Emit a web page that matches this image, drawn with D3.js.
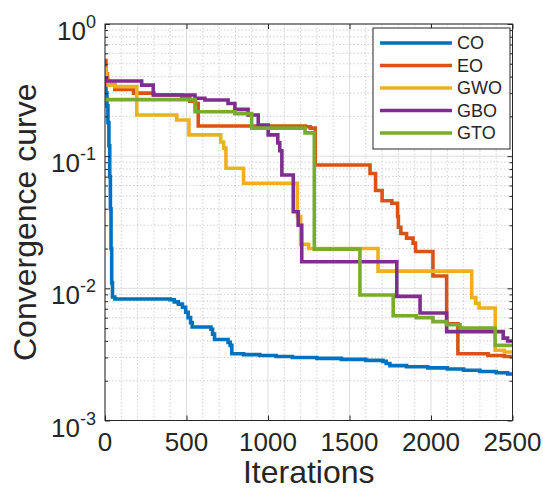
<!DOCTYPE html>
<html>
<head>
<meta charset="utf-8">
<script src="https://cdn.jsdelivr.net/npm/d3@7"></script>
<style>
  body { margin: 0; background: #fff; }
  svg { display: block; }
  text { font-family: "Liberation Sans", Arial, sans-serif; fill: #262626; }
</style>
</head>
<body>
<svg id="chart" width="543" height="495"></svg>
<script>
// Convergence histories: [iteration, best fitness] breakpoints of each staircase
const seriesNames = ["CO", "EO", "GWO", "GBO", "GTO"];
const seriesColors = ["#0072BD", "#D95319", "#EDB120", "#7E2F8E", "#77AC30"];

const CO = [[0,0.35],[6,0.3],[12,0.24],[18,0.18],[24,0.12],[29,0.07],[33,0.04],[37,0.02],[41,0.011],[46,0.0086],[60,0.0083],
  [400,0.0082],[425,0.0079],[450,0.0076],[475,0.0072],[495,0.0066],[510,0.006],[525,0.0055],[535,0.0051],[650,0.0049],
  [660,0.0045],[672,0.0041],[755,0.0039],[768,0.0037],[778,0.0032],[850,0.00315],[950,0.0031],[1050,0.00305],[1150,0.003],
  [1300,0.00295],[1450,0.0029],[1600,0.00285],[1705,0.0028],[1725,0.0027],[1748,0.0026],[1850,0.00255],[1980,0.0025],
  [2100,0.00245],[2200,0.0024],[2300,0.00235],[2400,0.0023],[2470,0.00225],[2500,0.00225]];

const EO = [[0,0.53],[6,0.42],[15,0.35],[60,0.32],[175,0.3],[300,0.29],[470,0.28],[520,0.26],[555,0.25],[572,0.169],
  [1230,0.167],[1260,0.163],[1290,0.0858],[1626,0.074],[1660,0.055],[1700,0.046],[1760,0.044],[1795,0.035],[1800,0.029],
  [1815,0.026],[1850,0.024],[1890,0.022],[1905,0.019],[2012,0.0124],[2096,0.0054],[2165,0.0032],[2350,0.0031],
  [2450,0.00305],[2500,0.00305]];

const GWO = [[0,0.46],[5,0.42],[10,0.38],[20,0.345],[60,0.336],[195,0.205],[440,0.188],[515,0.145],[710,0.128],
  [728,0.115],[742,0.081],[850,0.0624],[1180,0.035],[1200,0.0215],[1250,0.02],[1675,0.0135],[2250,0.0085],
  [2275,0.0077],[2295,0.0071],[2394,0.0034],[2450,0.0033],[2500,0.0033]];

const GBO = [[0,0.39],[10,0.37],[225,0.345],[296,0.29],[552,0.274],[613,0.266],[755,0.25],[797,0.226],[878,0.205],
  [940,0.172],[1001,0.145],[1060,0.126],[1072,0.11],[1085,0.072],[1155,0.038],[1185,0.03],[1207,0.0159],
  [1790,0.0087],[1933,0.0065],[2096,0.0047],[2443,0.0042],[2470,0.004],[2500,0.004]];

const GTO = [[0,0.268],[552,0.217],[797,0.21],[900,0.163],[1227,0.15],[1284,0.0198],[1564,0.0089],[1768,0.0062],
  [1910,0.006],[2012,0.0056],[2096,0.0053],[2178,0.005],[2394,0.0037],[2500,0.0037]];

const seriesData = [CO, EO, GWO, GBO, GTO];
const xTicks = [0, 500, 1000, 1500, 2000, 2500];
const yExponents = [0, -1, -2, -3];
const xMinorStep = 100;

const plot = { left: 105, right: 512.5, top: 24, bottom: 420.5 };
const axisColor = "#262626";

const svg = d3.select("#chart");
const x = d3.scaleLinear().domain([0, 2500]).range([plot.left, plot.right]);
const y = d3.scaleLog().domain([1e-3, 1]).range([plot.bottom, plot.top]);

// minor positions
const xMinor = d3.range(xMinorStep, 2500, xMinorStep).filter(v => v % 500 !== 0);
const yMinor = [];
[-3, -2, -1].forEach(e => { for (let k = 2; k <= 9; k++) yMinor.push(k * Math.pow(10, e)); });
const yMajor = yExponents.map(e => Math.pow(10, e));

// grid
const grid = svg.append("g");
grid.selectAll(".gxm").data(xMinor).join("line")
  .attr("x1", d => x(d)).attr("x2", d => x(d)).attr("y1", plot.top).attr("y2", plot.bottom)
  .attr("stroke", "#c4c4c4").attr("stroke-width", 0.8).attr("stroke-dasharray", "1.5,2");
grid.selectAll(".gym").data(yMinor).join("line")
  .attr("y1", d => y(d)).attr("y2", d => y(d)).attr("x1", plot.left).attr("x2", plot.right)
  .attr("stroke", "#c4c4c4").attr("stroke-width", 0.8).attr("stroke-dasharray", "1.5,2");
grid.selectAll(".gxM").data(xTicks).join("line")
  .attr("x1", d => x(d)).attr("x2", d => x(d)).attr("y1", plot.top).attr("y2", plot.bottom)
  .attr("stroke", "#dcdcdc").attr("stroke-width", 1);
grid.selectAll(".gyM").data(yMajor).join("line")
  .attr("y1", d => y(d)).attr("y2", d => y(d)).attr("x1", plot.left).attr("x2", plot.right)
  .attr("stroke", "#dcdcdc").attr("stroke-width", 1);

// curves
svg.append("clipPath").attr("id", "plotClip").append("rect")
  .attr("x", plot.left).attr("y", plot.top)
  .attr("width", plot.right - plot.left).attr("height", plot.bottom - plot.top);

const line = d3.line().x(d => x(d[0])).y(d => y(d[1])).curve(d3.curveStepAfter);
svg.append("g").attr("clip-path", "url(#plotClip)")
  .selectAll("path").data(seriesData).join("path")
  .attr("d", line)
  .attr("fill", "none")
  .attr("stroke", (d, i) => seriesColors[i])
  .attr("stroke-width", 3.6)
  .attr("stroke-linejoin", "miter");

// axes (ticks pointing inward, box on all sides)
function styleAxis(g) {
  g.select(".domain").remove();
  g.selectAll("line").attr("stroke", axisColor).attr("stroke-width", 1);
  g.selectAll("text").remove();
}
svg.append("g").attr("transform", `translate(0,${plot.bottom})`)
  .call(d3.axisBottom(x).tickValues(xTicks).tickSize(-5)).call(styleAxis);
svg.append("g").attr("transform", `translate(0,${plot.top})`)
  .call(d3.axisTop(x).tickValues(xTicks).tickSize(-5)).call(styleAxis);
svg.append("g").attr("transform", `translate(${plot.left},0)`)
  .call(d3.axisLeft(y).tickValues(yMajor).tickSize(-5)).call(styleAxis);
svg.append("g").attr("transform", `translate(${plot.left},0)`)
  .call(d3.axisLeft(y).tickValues(yMinor).tickSize(-3)).call(styleAxis);
svg.append("g").attr("transform", `translate(${plot.right},0)`)
  .call(d3.axisRight(y).tickValues(yMajor).tickSize(-5)).call(styleAxis);
svg.append("g").attr("transform", `translate(${plot.right},0)`)
  .call(d3.axisRight(y).tickValues(yMinor).tickSize(-3)).call(styleAxis);

svg.append("rect")
  .attr("x", plot.left).attr("y", plot.top)
  .attr("width", plot.right - plot.left).attr("height", plot.bottom - plot.top)
  .attr("fill", "none").attr("stroke", axisColor).attr("stroke-width", 1);

// tick labels
svg.append("g").selectAll("text").data(xTicks).join("text")
  .attr("x", d => x(d)).attr("y", 451)
  .attr("text-anchor", "middle").attr("font-size", 26)
  .text(d => d);

const yl = svg.append("g").selectAll("text").data(yExponents).join("text")
  .attr("x", 96).attr("y", d => y(Math.pow(10, d)) + 16)
  .attr("text-anchor", "end").attr("font-size", 26);
yl.append("tspan").text("10");
yl.append("tspan").attr("font-size", 18).attr("dy", -12).text(d => d === 0 ? "0" : "-" + Math.abs(d));

// axis titles
svg.append("text").attr("x", (plot.left + plot.right) / 2).attr("y", 483)
  .attr("text-anchor", "middle").attr("font-size", 32).text("Iterations");
svg.append("text")
  .attr("transform", `translate(36,${(plot.top + plot.bottom) / 2}) rotate(-90)`)
  .attr("text-anchor", "middle").attr("font-size", 32).text("Convergence curve");

// legend
const leg = { x: 373, y: 28, w: 137, h: 121, rowTop: 43, rowStep: 22.5 };
const lg = svg.append("g");
lg.append("rect").attr("x", leg.x).attr("y", leg.y).attr("width", leg.w).attr("height", leg.h)
  .attr("fill", "#fff").attr("stroke", axisColor).attr("stroke-width", 1);
const rows = lg.selectAll("g.row").data(seriesNames).join("g")
  .attr("transform", (d, i) => `translate(0,${leg.rowTop + i * leg.rowStep})`);
rows.append("line").attr("x1", 380).attr("x2", 452).attr("y1", 0).attr("y2", 0)
  .attr("stroke", (d, i) => seriesColors[i]).attr("stroke-width", 3.6);
rows.append("text").attr("x", 457).attr("y", 0).attr("dy", "0.35em")
  .attr("font-size", 18).text(d => d);
</script>
</body>
</html>
